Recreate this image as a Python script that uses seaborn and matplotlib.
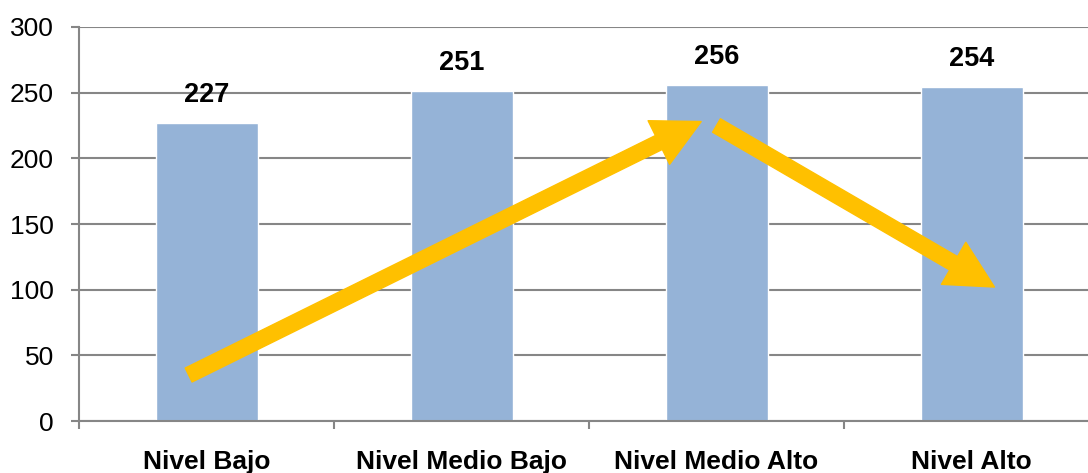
import numpy as np
import pandas as pd
import seaborn as sns
import matplotlib.pyplot as plt
from matplotlib.patches import FancyArrowPatch


categories = ["Nivel Bajo", "Nivel Medio Bajo", "Nivel Medio Alto", "Nivel Alto"]
values = [227, 251, 256, 254]
y_ticks = [0, 50, 100, 150, 200, 250, 300]

# trend arrows drawn over the bars (data coords: category index, value)
arrow_up = [(-0.07, 35), (1.94, 228)]
arrow_down = [(2.0, 225), (3.09, 102)]

bar_color = "#95B3D7"
arrow_color = "#FFC000"
grid_color = "#868686"

sns.set_style("white")
plt.rcParams['font.family'] = ['Liberation Sans', 'DejaVu Sans']
plt.rcParams['text.color'] = 'black'

df = pd.DataFrame({"nivel": categories, "valor": values})

fig = plt.figure(figsize=(10.88, 4.73), dpi=100)
ax = fig.add_axes([79 / 1088, 52 / 473, 1020 / 1088, 394 / 473])

sns.barplot(data=df, x="nivel", y="valor", color=bar_color, width=0.4,
            saturation=1, ax=ax, zorder=2)

ax.set_xlim(-0.5, 3.5)
ax.set_ylim(0, 300)
ax.set_yticks(y_ticks)
ax.set_xlabel("")
ax.set_ylabel("")

#Gridlines and spines
ax.yaxis.grid(True, color=grid_color, linewidth=1.5, zorder=0)
ax.set_axisbelow(True)
for side in ["top", "right"]:
    ax.spines[side].set_visible(False)
for side in ["left", "bottom"]:
    ax.spines[side].set_color(grid_color)
    ax.spines[side].set_linewidth(1.5)

ax.tick_params(axis="y", direction="out", length=6, width=1.5, color=grid_color,
               pad=12, labelsize=19, left=True, labelcolor="black")
ax.tick_params(axis="x", which="major", length=0, pad=21, labelcolor="black")
ax.set_xticks(np.arange(-0.5, 4.0, 1.0), minor=True)
ax.tick_params(axis="x", which="minor", direction="out", length=6, width=1.5,
               color=grid_color, bottom=True)
for lab in ax.get_xticklabels():
    lab.set_fontweight("bold")
    lab.set_fontsize(19)

#Value labels over bars
for i, v in enumerate(values):
    ax.annotate(str(v), (i, v), xytext=(0, 11), textcoords="offset points",
                ha="center", va="bottom", fontsize=19.5, fontweight="bold",
                color="black")

#Trend arrows
for start, end in [arrow_up, arrow_down]:
    arr = FancyArrowPatch(start, end, arrowstyle="simple,head_width=1.75,head_length=1.7,tail_width=0.56",
                          mutation_scale=20, color=arrow_color, shrinkA=0, shrinkB=0,
                          zorder=3, clip_on=False)
    ax.add_patch(arr)

fig.savefig("out.png", dpi=100)
plt.close()
